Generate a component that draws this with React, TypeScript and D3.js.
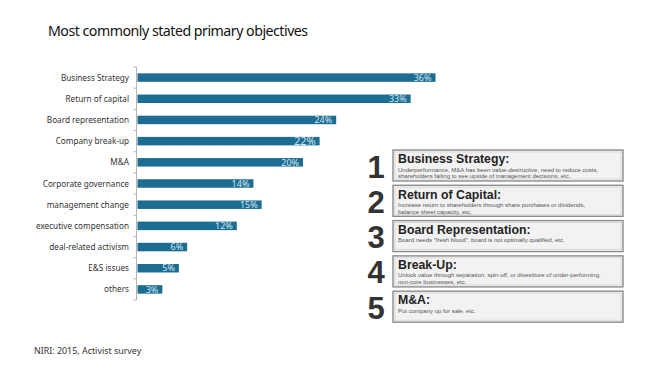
import React from "react";
import * as d3 from "d3";

const categories = [
  "Business Strategy",
  "Return of capital",
  "Board representation",
  "Company break-up",
  "M&A",
  "Corporate governance",
  "management change",
  "executive compensation",
  "deal-related activism",
  "E&S issues",
  "others",
];
const values = [36, 33, 24, 22, 20, 14, 15, 12, 6, 5, 3];
const labelSizes = [9, 9, 9, 11, 9, 9, 9, 9, 9, 9, 9];

const objectiveNumbers = ["1", "2", "3", "4", "5"];
const objectiveTitles = [
  "Business Strategy:",
  "Return of Capital:",
  "Board Representation:",
  "Break-Up:",
  "M&A:",
];
const objectiveDescriptions = [
  [
    "Underperformance, M&A has been value-destructive, need to reduce costs,",
    "shareholders failing to see upside of management decisions, etc.",
  ],
  [
    "Increase return to shareholders through share purchases or dividends,",
    "balance sheet capacity, etc.",
  ],
  ['Board needs "fresh blood", board is not optimally qualified, etc.'],
  [
    "Unlock value through separation, spin-off, or divestiture of under-performing,",
    "non-core businesses, etc.",
  ],
  ["Put company up for sale, etc."],
];

const titleText = "Most commonly stated primary objectives";
const sourceText = "NIRI: 2015, Activist survey";

export default function App() {
  const W = 650;
  const H = 384;
  const x = d3.scaleLinear().domain([0, 36]).range([137.5, 435.5]);
  const y = d3.scaleBand<string>().domain(categories).range([67, 300]).padding(0);
  const barH = 8.5;
  const axisX = 136.5;
  const tickYs = categories.map((c) => y(c) as number).concat([300]);

  const boxX = 393;
  const boxW = 230;
  const boxH = 31;
  const boxScale = d3
    .scaleBand<string>()
    .domain(objectiveNumbers)
    .range([150, 150 + 35.3 * 5])
    .padding(0);

  const sans = "'Noto Sans', 'Open Sans', sans-serif";
  const arial = "'Liberation Sans', Arial, sans-serif";

  return (
    <svg
      width={W}
      height={H}
      style={{ position: "absolute", left: 0, top: 0, background: "#fff" }}
    >
      <text x={48} y={36} fontFamily={sans} fontSize={14.2} letterSpacing={-0.5} fill="#111">
        {titleText}
      </text>

      {/* axis */}
      <line x1={axisX} x2={axisX} y1={67} y2={300} stroke="#b5b5b5" strokeWidth={1} />
      {tickYs.map((ty, i) => (
        <line key={i} x1={axisX - 3} x2={axisX} y1={ty} y2={ty} stroke="#b5b5b5" strokeWidth={1} />
      ))}

      {categories.map((c, i) => {
        const cy = (y(c) as number) + y.bandwidth() / 2;
        const x1 = x(values[i]);
        return (
          <g key={c}>
            <text
              x={129}
              y={cy + 3}
              textAnchor="end"
              fontFamily={sans}
              fontSize={8.2}
              fill="#333"
            >
              {c}
            </text>
            <rect x={x(0)} y={cy - barH / 2} width={x1 - x(0)} height={barH} fill="#1d6d92" />
            <text
              x={x1 - 4}
              y={cy + (labelSizes[i] > 9 ? 4 : 3.2)}
              textAnchor="end"
              fontFamily={sans}
              fontSize={labelSizes[i]}
              fill="#cfe6f2"
            >
              {values[i] + "%"}
            </text>
          </g>
        );
      })}

      {objectiveNumbers.map((n, i) => {
        const top = boxScale(n) as number;
        return (
          <g key={n}>
            <text
              x={376}
              y={top + 27.5}
              textAnchor="middle"
              fontFamily={arial}
              fontWeight="bold"
              fontSize={31}
              fill="#333"
            >
              {n}
            </text>
            <rect x={boxX} y={top} width={boxW} height={boxH} fill="#f2f2f2" stroke="#8c8c8c" strokeWidth={1.4} />
            <rect
              x={boxX + 2}
              y={top + 2}
              width={boxW - 4}
              height={boxH - 4}
              fill="none"
              stroke="#d4d4d4"
              strokeWidth={0.8}
            />
            <text x={398} y={top + 13.2} fontFamily={arial} fontWeight="bold" fontSize={12.3} fill="#222">
              {objectiveTitles[i]}
            </text>
            {objectiveDescriptions[i].map((line, j) => (
              <text key={j} x={398} y={top + 21.5 + j * 6.8} fontFamily={arial} fontSize={6} fill="#555">
                {line}
              </text>
            ))}
          </g>
        );
      })}

      <text x={34} y={354} fontFamily={sans} fontSize={8.9} fill="#333">
        {sourceText}
      </text>
    </svg>
  );
}
